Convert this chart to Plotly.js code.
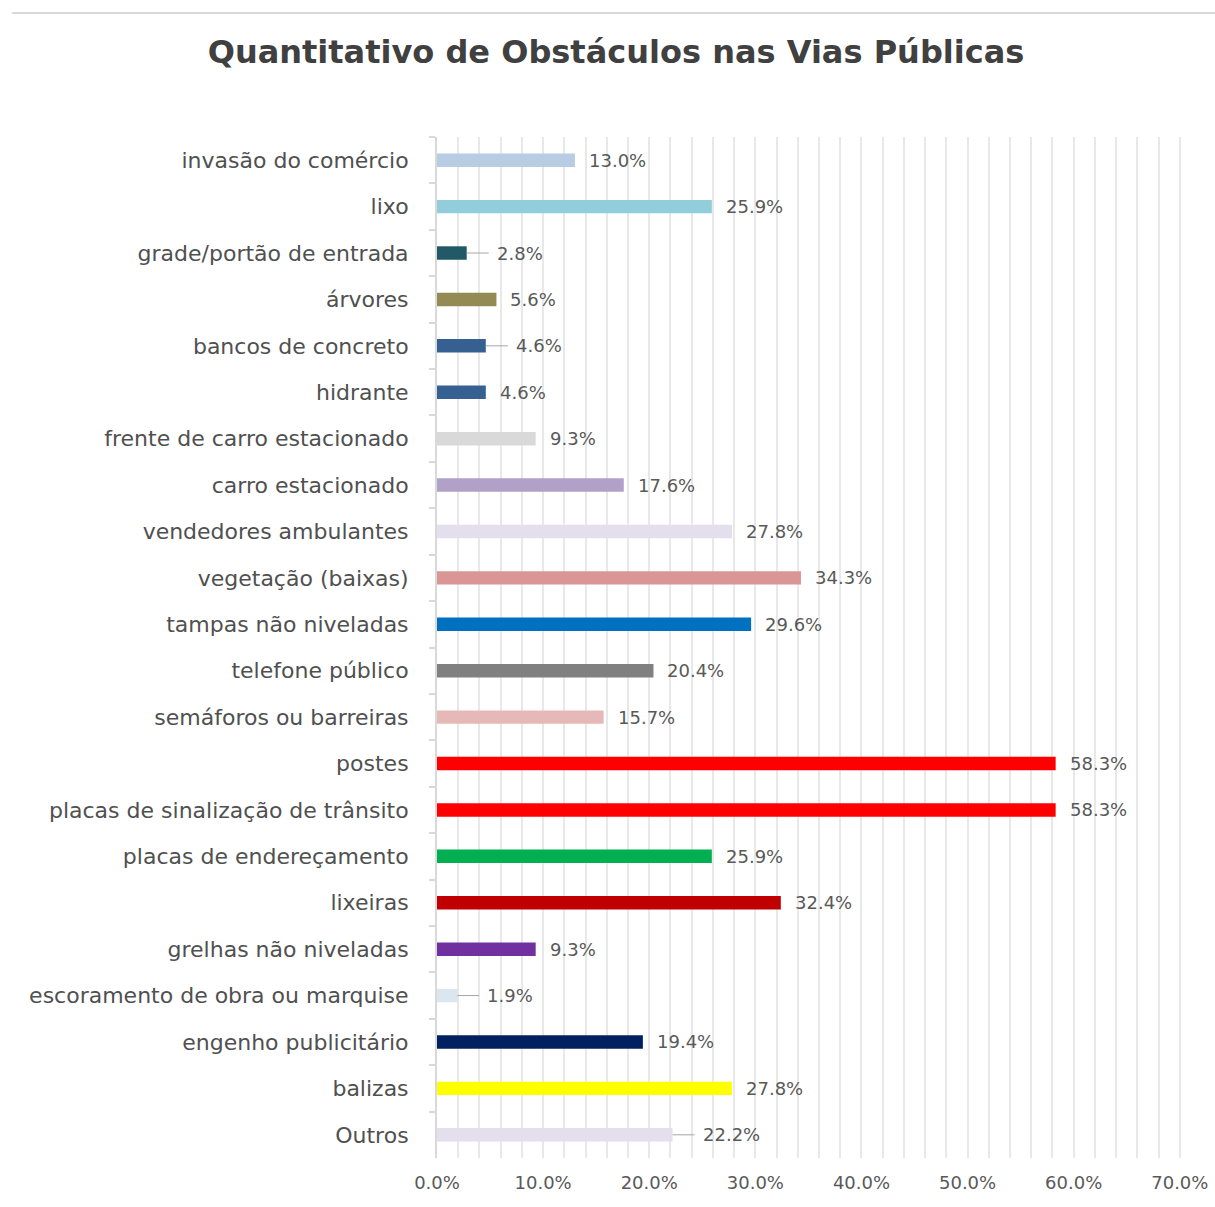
<!DOCTYPE html>
<html>
<head>
<meta charset="utf-8">
<script src="https://cdn.plot.ly/plotly-3.0.1.min.js"></script>
<style>html,body{margin:0;padding:0;background:#fff;}#chart{width:1215px;height:1207px;}</style>
</head>
<body>
<div id="chart"></div>
<script>
const categories = [
  "invasão do comércio",
  "lixo",
  "grade/portão de entrada",
  "árvores",
  "bancos de concreto",
  "hidrante",
  "frente de carro estacionado",
  "carro estacionado",
  "vendedores ambulantes",
  "vegetação (baixas)",
  "tampas não niveladas",
  "telefone público",
  "semáforos ou barreiras",
  "postes",
  "placas de sinalização de trânsito",
  "placas de endereçamento",
  "lixeiras",
  "grelhas não niveladas",
  "escoramento de obra ou marquise",
  "engenho publicitário",
  "balizas",
  "Outros"
];
const values = [13.0, 25.9, 2.8, 5.6, 4.6, 4.6, 9.3, 17.6, 27.8, 34.3, 29.6, 20.4, 15.7, 58.3, 58.3, 25.9, 32.4, 9.3, 1.9, 19.4, 27.8, 22.2];
const barColors = [
  "#B8CCE4", "#92CDDC", "#215967", "#948A54", "#376092", "#376092",
  "#D9D9D9", "#B1A0C7", "#E4DFEC", "#DA9694", "#0070C0", "#808080",
  "#E6B8B7", "#FF0000", "#FF0000", "#00B050", "#C00000", "#7030A0",
  "#DCE6F1", "#002060", "#FFFF00", "#E4DFEC"
];
const leaderLine = [false, false, true, false, true, false, false, false, false, false, false, false, false, false, false, false, false, false, true, false, false, true];
const tickValues = [0, 10, 20, 30, 40, 50, 60, 70];
const tickLabels = ["0.0%", "10.0%", "20.0%", "30.0%", "40.0%", "50.0%", "60.0%", "70.0%"];

const labelFont = {family: "DejaVu Sans", size: 18, color: "#595959"};

const annotations = categories.map((c, i) => {
  const txt = values[i].toFixed(1) + "%";
  if (leaderLine[i]) {
    return {
      x: values[i], y: c, xref: "x", yref: "y",
      text: txt, font: labelFont,
      showarrow: true, arrowhead: 0, arrowwidth: 1, arrowcolor: "#A6A6A6",
      ax: 22, ay: 0, xanchor: "left", borderpad: 7, standoff: 0
    };
  }
  return {
    x: values[i], y: c, xref: "x", yref: "y",
    text: txt, font: labelFont, showarrow: false,
    xanchor: "left", xshift: 12
  };
});

const trace = {
  type: "bar",
  orientation: "h",
  x: values,
  y: categories,
  width: 0.29,
  marker: {color: barColors},
  hoverinfo: "x+y"
};

const layout = {
  width: 1215,
  height: 1207,
  paper_bgcolor: "#ffffff",
  plot_bgcolor: "#ffffff",
  margin: {l: 437, r: 32, t: 137, b: 49},
  showlegend: false,
  title: {
    text: "<b>Quantitativo de Obstáculos nas Vias Públicas</b>",
    font: {family: "DejaVu Sans", size: 32, color: "#404040"},
    x: 0.507, xanchor: "center", y: 0.957, yanchor: "middle"
  },
  xaxis: {
    range: [0, 70.3],
    tickvals: tickValues,
    ticktext: tickLabels,
    tickfont: {family: "DejaVu Sans", size: 18, color: "#595959"},
    showgrid: true,
    gridcolor: "#E8E8E8",
    gridwidth: 2,
    minor: {dtick: 2, showgrid: true, gridcolor: "#E8E8E8", gridwidth: 2},
    zeroline: false,
    showline: false,
    ticks: "",
    ticklabelstandoff: 12,
    fixedrange: true
  },
  yaxis: {
    autorange: "reversed",
    type: "category",
    tickfont: {family: "DejaVu Sans", size: 22, color: "#505050"},
    showline: true,
    linecolor: "#D9D9D9",
    linewidth: 2,
    ticks: "outside",
    tickson: "boundaries",
    ticklen: 6,
    tickcolor: "#D9D9D9",
    tickwidth: 2,
    ticklabelstandoff: 22,
    showgrid: false,
    zeroline: false,
    fixedrange: true
  },
  annotations: annotations,
  shapes: [{
    type: "line", xref: "paper", yref: "paper",
    x0: -0.57, x1: 1.05, y0: 1.1214, y1: 1.1214,
    line: {color: "#D9D9D9", width: 2}
  }]
};

Plotly.newPlot("chart", [trace], layout, {displayModeBar: false, staticPlot: true});
</script>
</body>
</html>
